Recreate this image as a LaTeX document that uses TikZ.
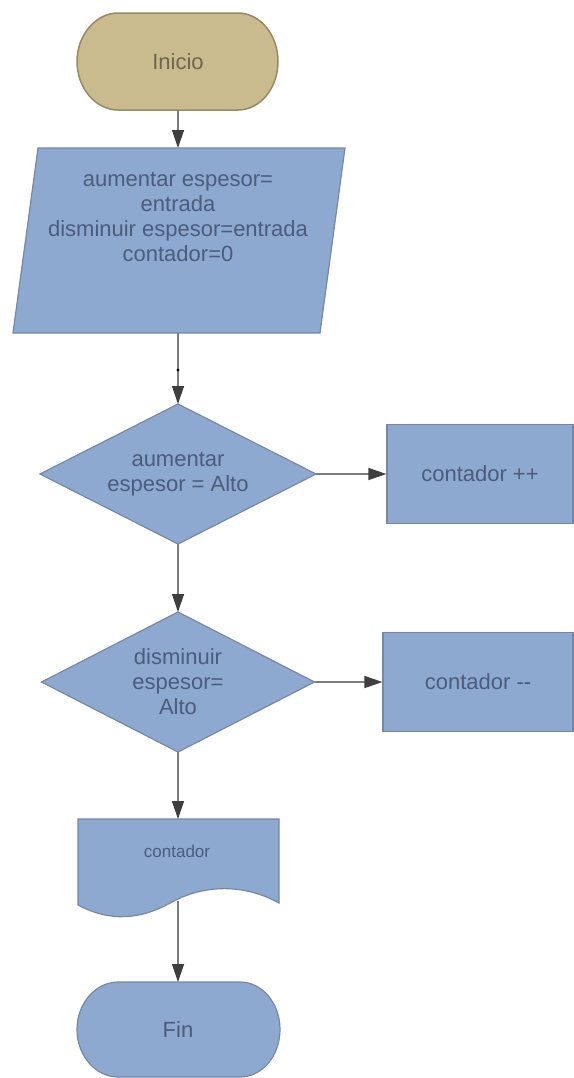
\documentclass[tikz,border=0pt]{standalone}
\usepackage{fontspec}
\setmainfont{Liberation Sans}
\usetikzlibrary{arrows.meta,shapes.geometric}

\definecolor{tanfill}{RGB}{201,187,141}
\definecolor{tanline}{RGB}{150,138,100}
\definecolor{tantext}{RGB}{110,101,78}
\definecolor{bluefill}{RGB}{141,169,208}
\definecolor{blueline}{RGB}{118,136,164}
\definecolor{bluetext}{RGB}{75,92,124}
\definecolor{linkgray}{RGB}{125,125,125}
\definecolor{tipgray}{RGB}{62,62,62}

\begin{document}
\begin{tikzpicture}[x=1bp,y=-1bp,
  txt/.style={font=\fontsize{22bp}{25bp}\selectfont, text=bluetext, align=center},
  smalltxt/.style={font=\fontsize{17bp}{20bp}\selectfont, text=bluetext},
  anchorbox/.style={draw=none, rectangle, inner sep=0pt, outer sep=0pt},
  blueshape/.style={fill=bluefill, draw=blueline, line width=1.2bp},
  tanshape/.style={fill=tanfill, draw=tanline, line width=1.5bp},
  link/.style={draw=linkgray, line width=1.3bp,
    -{Triangle[length=18bp,width=12bp,color=tipgray]}}
]
\useasboundingbox (0,0) rectangle (574,1078);

% start terminal
\draw[tanshape] (118,13) -- (238,13)
  .. controls (260,13) and (278,34.7) .. (278,61.5)
  .. controls (278,88.3) and (260,110) .. (238,110) -- (118,110)
  .. controls (96,110) and (77,88.3) .. (77,61.5)
  .. controls (77,34.7) and (96,13) .. (118,13) -- cycle;
\node[anchorbox, minimum width=201bp, minimum height=97bp,
  font=\fontsize{22bp}{25bp}\selectfont, text=tantext] (inicio) at (178,61.5) {Inicio};

% input data
\draw[blueshape] (38,148) -- (345,148) -- (320,333) -- (13,333) -- cycle;
\node[anchorbox, minimum width=280bp, minimum height=185bp] (datos) at (178,240.5) {};
\node[txt] (datostxt) at (178,217)
  {aumentar espesor=\\entrada\\disminuir espesor=entrada\\contador=0};

% first decision
\node[diamond, blueshape, aspect=1.97, inner sep=0pt, outer sep=0pt,
  minimum width=276bp, minimum height=140bp, txt] (cond1) at (178,474)
  {aumentar\\espesor = Alto};
\node[rectangle, blueshape, minimum width=186bp, minimum height=99bp, txt]
  (inc) at (480,474) {contador ++};

% second decision
\node[diamond, blueshape, aspect=1.95, inner sep=0pt, outer sep=0pt,
  minimum width=273bp, minimum height=140bp, txt] (cond2) at (178,682)
  {disminuir\\espesor=\\Alto};
\node[rectangle, blueshape, minimum width=190bp, minimum height=99bp, txt]
  (dec) at (478,682) {contador -{}-};

% output document
\draw[blueshape] (78,819) -- (279,819) -- (279,903)
  .. controls (245,884) and (205,884) .. (172,902)
  .. controls (140,920) and (110,922) .. (78,905) -- cycle;
\node[anchorbox, minimum width=200bp, minimum height=82bp] (salida) at (178,860) {};
\node[smalltxt] (salidatxt) at (177,851) {contador};

% end terminal
\draw[blueshape] (118,982) -- (240,982)
  .. controls (262,982) and (280,1003) .. (280,1029.5)
  .. controls (280,1056) and (262,1077) .. (240,1077) -- (118,1077)
  .. controls (96,1077) and (77,1056) .. (77,1029.5)
  .. controls (77,1003) and (96,982) .. (118,982) -- cycle;
\node[anchorbox, minimum width=203bp, minimum height=95bp, txt] (fin) at (178,1029.5) {Fin};

% connectors
\coordinate (mark) at (178,370);
\draw[link] (inicio.south) -- (datos.north);
\draw[link] (datos.south) -- (cond1.north);
\fill[black] (mark) circle (1.6bp);
\draw[link] (cond1.east) -- (inc.west);
\draw[link] (cond1.south) -- (cond2.north);
\draw[link] (cond2.east) -- (dec.west);
\draw[link] (cond2.south) -- (salida.north);
\draw[link] (salida.south) -- (fin.north);
\end{tikzpicture}
\end{document}
